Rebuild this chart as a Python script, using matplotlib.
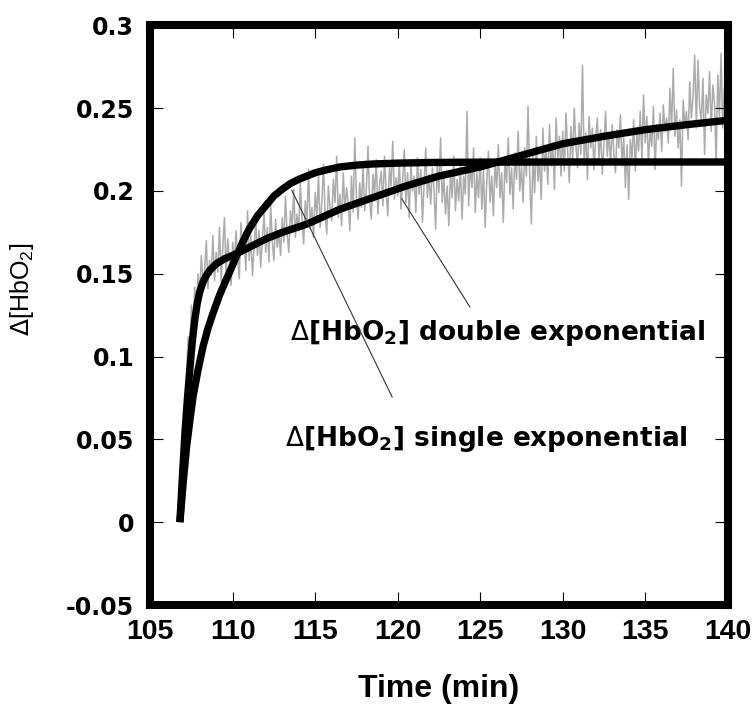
import numpy as np
import matplotlib.pyplot as plt

plt.rcParams['mathtext.fontset'] = 'dejavusans'
plt.rcParams['mathtext.default'] = 'regular'

# measured trace, one sample every 0.1 min from 107.0 to 140.0 min
TRACE_START = 107.0
TRACE_END = 140.0
HBO2_TRACE = [
    0.020, 0.066, 0.088, 0.112, 0.104, 0.131, 0.118, 0.142, 0.127, 0.150,
    0.138, 0.161, 0.144, 0.152, 0.170, 0.141, 0.158, 0.149, 0.173, 0.146,
    0.163, 0.151, 0.178, 0.145, 0.166, 0.184, 0.150, 0.171, 0.158, 0.143,
    0.169, 0.155, 0.176, 0.160, 0.147, 0.181, 0.162, 0.170, 0.152, 0.188,
    0.158, 0.173, 0.149, 0.167, 0.182, 0.161, 0.176, 0.154, 0.171, 0.186,
    0.163, 0.178, 0.157, 0.192, 0.170, 0.158, 0.183, 0.166, 0.175, 0.161,
    0.184, 0.169, 0.197, 0.174, 0.163, 0.188, 0.179, 0.201, 0.172, 0.186,
    0.176, 0.205, 0.183, 0.168, 0.194, 0.181, 0.213, 0.177, 0.190, 0.172,
    0.199, 0.185, 0.209, 0.178, 0.193, 0.216, 0.186, 0.174, 0.203, 0.190,
    0.182, 0.207, 0.193, 0.221, 0.184, 0.198, 0.179, 0.211, 0.188, 0.202,
    0.193, 0.176, 0.209, 0.187, 0.232, 0.196, 0.183, 0.205, 0.190, 0.215,
    0.188, 0.201, 0.227, 0.194, 0.183, 0.210, 0.198, 0.219, 0.186, 0.204,
    0.212, 0.191, 0.221, 0.199, 0.185, 0.214, 0.203, 0.230, 0.195, 0.208,
    0.197, 0.218, 0.189, 0.206, 0.225, 0.193, 0.211, 0.184, 0.216, 0.200,
    0.209, 0.187, 0.220, 0.198, 0.213, 0.181, 0.204, 0.226, 0.196, 0.210,
    0.192, 0.214, 0.201, 0.177, 0.217, 0.199, 0.232, 0.193, 0.208, 0.186,
    0.203, 0.179, 0.212, 0.196, 0.221, 0.188, 0.207, 0.194, 0.215, 0.183,
    0.209, 0.198, 0.248, 0.191, 0.217, 0.202, 0.226, 0.187, 0.211, 0.196,
    0.220, 0.189, 0.213, 0.178, 0.206, 0.224, 0.193, 0.209, 0.185, 0.217,
    0.202, 0.228, 0.196, 0.211, 0.181, 0.219, 0.205, 0.232, 0.198, 0.214,
    0.189, 0.223, 0.207, 0.236, 0.200, 0.215, 0.193, 0.226, 0.209, 0.251,
    0.210, 0.180, 0.221, 0.199, 0.233, 0.206, 0.218, 0.195, 0.238, 0.212,
    0.226, 0.204, 0.240, 0.215, 0.229, 0.201, 0.244, 0.219, 0.233, 0.209,
    0.236, 0.212, 0.247, 0.224, 0.205, 0.239, 0.218, 0.250, 0.228, 0.214,
    0.241, 0.222, 0.276, 0.218, 0.235, 0.207, 0.245, 0.226, 0.238, 0.213,
    0.232, 0.244, 0.219, 0.237, 0.210, 0.228, 0.248, 0.221, 0.235, 0.216,
    0.240, 0.223, 0.211, 0.237, 0.226, 0.246, 0.215, 0.232, 0.202, 0.228,
    0.195, 0.231, 0.220, 0.243, 0.212, 0.236, 0.224, 0.248, 0.219, 0.258,
    0.229, 0.245, 0.216, 0.238, 0.227, 0.251, 0.213, 0.240, 0.231, 0.247,
    0.224, 0.252, 0.236, 0.244, 0.229, 0.262, 0.238, 0.274, 0.233, 0.249,
    0.226, 0.243, 0.203, 0.255, 0.239, 0.248, 0.231, 0.266, 0.244, 0.257,
    0.282, 0.238, 0.279, 0.251, 0.242, 0.268, 0.222, 0.258, 0.247, 0.272,
    0.236, 0.264, 0.253, 0.217, 0.270, 0.245, 0.283, 0.238, 0.262, 0.254,
    0.276,
]

# single exponential fit (saturating)
SINGLE_T = [106.8, 107.0, 107.2, 107.4, 107.6, 107.9, 108.2, 108.5, 108.8, 109.2,
            109.5, 109.9, 110.2, 110.6, 111.0, 111.5, 112.0, 112.5, 113.0, 113.5,
            114.0, 114.5, 115.0, 115.7, 116.5, 117.5, 118.5, 120.0, 122.0, 125.0,
            130.0, 135.0, 140.0]
SINGLE_V = [0.000, 0.024, 0.045, 0.061, 0.076, 0.092, 0.106, 0.117, 0.126, 0.137,
            0.144, 0.153, 0.160, 0.169, 0.177, 0.185, 0.191, 0.197, 0.201, 0.2045,
            0.207, 0.209, 0.211, 0.2128, 0.2145, 0.2156, 0.2163, 0.2168, 0.2172, 0.2174,
            0.2175, 0.2175, 0.2175]

# double exponential fit
DOUBLE_T = [106.8, 106.95, 107.1, 107.25, 107.4, 107.55, 107.7, 107.85, 108.0, 108.2,
            108.4, 108.6, 108.8, 109.0, 109.5, 110.2, 111.0, 112.0, 113.0, 114.5,
            116.5, 118.5, 120.5, 122.5, 125.0, 127.5, 130.0, 132.5, 135.0, 137.5,
            140.0]
DOUBLE_V = [0.000, 0.027, 0.053, 0.074, 0.092, 0.109, 0.122, 0.132, 0.139, 0.145,
            0.149, 0.152, 0.154, 0.156, 0.159, 0.162, 0.166, 0.171, 0.175, 0.180,
            0.189, 0.196, 0.203, 0.209, 0.2145, 0.2215, 0.2285, 0.2330, 0.2370, 0.2400,
            0.2427]

LABEL_DOUBLE = r'$\mathrm{\Delta}$[HbO$_2$] double exponential'
LABEL_SINGLE = r'$\mathrm{\Delta}$[HbO$_2$] single exponential'

# leader lines: (point on curve, end near label)
PTR_SINGLE = ((113.58, 0.2004), (119.67, 0.0755))
PTR_DOUBLE = ((120.24, 0.1954), (124.38, 0.1299))
POS_DOUBLE = (113.5, 0.110)
POS_SINGLE = (113.2, 0.046)

XTICKS = [105, 110, 115, 120, 125, 130, 135, 140]
YTICKS = [-0.05, 0, 0.05, 0.1, 0.15, 0.2, 0.25, 0.3]

fig = plt.figure(figsize=(7.54, 7.04), dpi=100)
ax = fig.add_axes([0.1992, 0.1406, 0.7659, 0.8234])

trace_t = np.linspace(TRACE_START, TRACE_END, len(HBO2_TRACE))
ax.plot(trace_t, HBO2_TRACE, color='#ababab', lw=1.1, zorder=1)
ax.plot(SINGLE_T, SINGLE_V, color='black', lw=5.3, solid_capstyle='butt', zorder=3)
ax.plot(DOUBLE_T, DOUBLE_V, color='black', lw=5.3, solid_capstyle='butt', zorder=3)

for start, end in (PTR_SINGLE, PTR_DOUBLE):
    ax.annotate('', xy=start, xytext=end,
                arrowprops=dict(arrowstyle='-', color='#333333', lw=0.8,
                                shrinkA=0, shrinkB=0), zorder=4)

ax.text(POS_DOUBLE[0], POS_DOUBLE[1], LABEL_DOUBLE, fontfamily='DejaVu Sans',
        fontweight='bold', fontsize=19, ha='left', va='baseline')
ax.text(POS_SINGLE[0], POS_SINGLE[1], LABEL_SINGLE, fontfamily='DejaVu Sans',
        fontweight='bold', fontsize=19, ha='left', va='baseline')

ax.set_xlim(105, 140)
ax.set_ylim(-0.05, 0.3)
ax.set_xticks(XTICKS)
ax.set_yticks(YTICKS)
ax.set_yticklabels([f'{v:g}' for v in YTICKS], fontfamily='DejaVu Sans',
                   fontweight='bold', fontsize=17)
ax.set_xticklabels([str(v) for v in XTICKS], fontfamily='Liberation Sans',
                   fontweight='bold', fontsize=20.5)
ax.tick_params(direction='in', length=9.5, width=0.8, top=True, right=True)
ax.tick_params(axis='x', pad=10)
ax.tick_params(axis='y', pad=11.5)
for sp in ax.spines.values():
    sp.set_linewidth(5.8)

ax.set_ylabel(r'$\mathrm{\Delta}$[HbO$_2$]', fontfamily='Liberation Sans',
              fontsize=18)
ax.yaxis.set_label_coords(-0.198, 0.545)

fig.text(0.5822, 1 - 697 / 704, 'Time (min)', fontfamily='Liberation Sans',
         fontweight='bold', fontsize=23, ha='center', va='baseline')

plt.savefig('out.png', dpi=100)
